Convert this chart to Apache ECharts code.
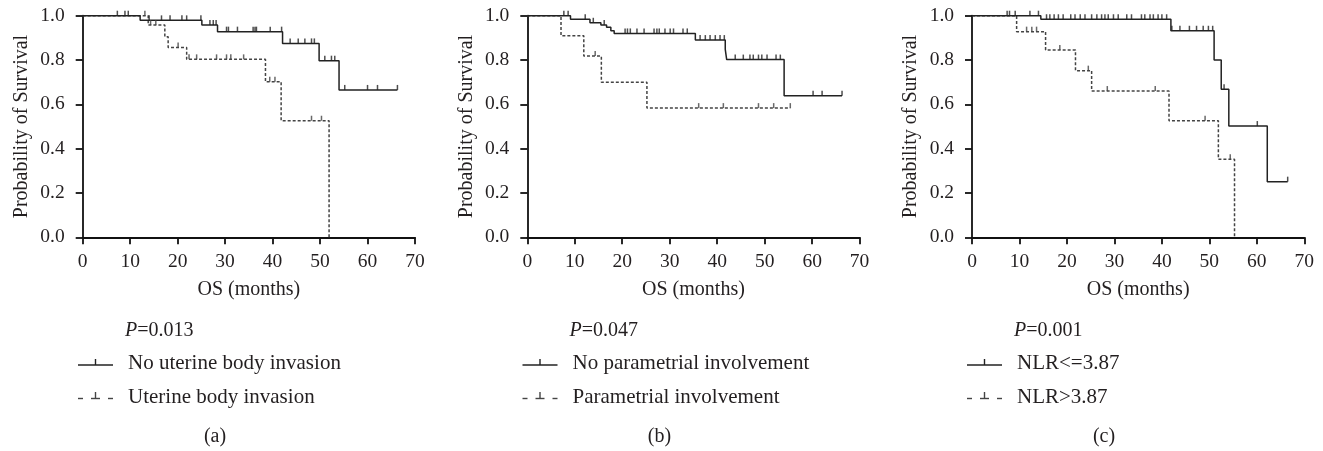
<!DOCTYPE html>
<html>
<head>
<meta charset="utf-8">
<script src="https://cdn.jsdelivr.net/npm/echarts@6/dist/echarts.min.js"></script>
<style>
html,body{margin:0;padding:0;background:#fff;}
#chart{width:1323px;height:451px;}
</style>
</head>
<body>
<div id="chart"></div>
<script>
// ---------- data ----------
const xTickLabels = ['0','10','20','30','40','50','60','70'];
const yTickLabels = ['0.0','0.2','0.4','0.6','0.8','1.0'];

// Panel (a)
const aSolidT = [0, 12.1, 25.1, 28.4, 42.1, 49.8, 54.0, 66.3];
const aSolidS = [1, 0.979, 0.958, 0.928, 0.875, 0.797, 0.665, 0.665];
const aSolidCens = [7.3, 8.9, 9.6, 14.0, 16.6, 18.4, 20.9, 21.9, 24.9, 26.8, 27.5, 28.1, 30.3, 30.7, 32.6, 35.9, 36.3, 36.6, 39.5, 41.9, 43.7, 45.4, 46.8, 48.2, 48.8, 51.0, 52.4, 53.1, 55.2, 60.0, 62.1, 66.3];
const aDashT = [0, 13.8, 17.3, 18.0, 21.9, 38.5, 41.8, 51.9];
const aDashS = [1, 0.958, 0.905, 0.857, 0.803, 0.702, 0.526, 0];
const aDashCens = [13.1, 14.3, 15.4, 20.1, 22.4, 24.0, 28.2, 30.3, 31.2, 33.9, 39.4, 40.5, 48.2, 50.3];

// Panel (b)
const bSolidT = [0, 9.1, 13.2, 15.5, 16.7, 17.6, 18.3, 35.4, 41.7, 42.0, 54.1, 66.3];
const bSolidS = [1, 0.984, 0.968, 0.958, 0.948, 0.932, 0.920, 0.890, 0.848, 0.802, 0.639, 0.639];
const bSolidCens = [7.7, 8.6, 12.2, 13.9, 16.2, 20.6, 21.1, 21.7, 23.1, 24.6, 26.7, 27.3, 27.8, 29.0, 30.1, 30.8, 32.8, 33.7, 36.4, 37.5, 38.5, 39.6, 40.6, 41.5, 43.8, 45.5, 46.9, 47.6, 48.7, 49.4, 50.5, 52.4, 53.3, 60.2, 62.1, 66.3];
const bDashT = [0, 7.1, 11.9, 15.6, 25.2, 55.4];
const bDashS = [1, 0.910, 0.818, 0.700, 0.583, 0.583];
const bDashCens = [14.3, 36.1, 41.3, 48.7, 51.9, 55.4];

// Panel (c)
const cSolidT = [0, 14.5, 41.9, 51.0, 52.5, 54.1, 62.2, 66.5];
const cSolidS = [1, 0.984, 0.932, 0.800, 0.668, 0.502, 0.251, 0.251];
const cSolidCens = [7.4, 7.9, 9.1, 12.2, 14.0, 15.7, 16.4, 17.3, 18.2, 19.2, 20.8, 21.7, 22.8, 23.8, 25.2, 26.3, 27.3, 28.0, 28.7, 29.8, 30.8, 32.6, 33.6, 35.7, 36.4, 37.5, 38.2, 39.2, 40.0, 41.0, 42.1, 43.8, 45.8, 47.3, 48.7, 49.8, 50.7, 53.1, 60.1, 66.5];
const cDashT = [0, 9.4, 15.5, 21.8, 25.2, 41.5, 51.9, 55.3];
const cDashS = [1, 0.928, 0.845, 0.752, 0.660, 0.526, 0.352, 0];
const cDashCens = [11.5, 12.6, 13.6, 18.5, 24.5, 28.5, 38.6, 49.1, 54.4];

const pValues = ['0.013', '0.047', '0.001'];
const solidNames = ['No uterine body invasion', 'No parametrial involvement', 'NLR<=3.87'];
const dashNames = ['Uterine body invasion', 'Parametrial involvement', 'NLR>3.87'];
const panelTags = ['(a)', '(b)', '(c)'];

// ---------- build ----------
const FONT = '"Liberation Serif", "Times New Roman", serif';
const TXT = '#231f20';
const SOLID = '#222222';
const DASH = '#444444';

function pairs(T, S) { return T.map((t, i) => [t, S[i]]); }
function survAt(T, S, t) {
  let v = S[0];
  for (let i = 0; i < T.length; i++) { if (t >= T[i]) v = S[i]; }
  return v;
}
function cens(T, S, C) { return C.map(t => [t, survAt(T, S, t)]); }

const panels = [
  {sT: aSolidT, sS: aSolidS, sC: aSolidCens, dT: aDashT, dS: aDashS, dC: aDashCens, left: 82.7},
  {sT: bSolidT, sS: bSolidS, sC: bSolidCens, dT: bDashT, dS: bDashS, dC: bDashCens, left: 527.3},
  {sT: cSolidT, sS: cSolidS, sC: cSolidCens, dT: cDashT, dS: cDashS, dC: cDashCens, left: 972}
];

const grid = [], xAxis = [], yAxis = [], series = [], graphic = [];
panels.forEach((p, k) => {
  grid.push({left: p.left, top: 15.7, width: 332.3, height: 221.6});
  xAxis.push({
    type: 'value', gridIndex: k, min: 0, max: 70, interval: 10,
    name: 'OS (months)', nameLocation: 'middle', nameGap: 42,
    nameTextStyle: {fontFamily: FONT, fontSize: 20, color: TXT},
    axisLine: {lineStyle: {color: '#111', width: 1.8}},
    axisTick: {show: true, length: 7, lineStyle: {color: '#111', width: 1.8}},
    axisLabel: {fontFamily: FONT, fontSize: 19.5, color: TXT, margin: 15,
      formatter: v => xTickLabels[Math.round(v / 10)]},
    splitLine: {show: false}
  });
  yAxis.push({
    type: 'value', gridIndex: k, min: 0, max: 1, interval: 0.2,
    name: 'Probability of Survival', nameLocation: 'middle', nameGap: 51,
    nameTextStyle: {fontFamily: FONT, fontSize: 20, color: TXT},
    axisLine: {show: true, lineStyle: {color: '#111', width: 1.8}},
    axisTick: {show: true, length: 7, lineStyle: {color: '#111', width: 1.8}},
    axisLabel: {fontFamily: FONT, fontSize: 19.5, color: TXT, margin: 18,
      formatter: v => yTickLabels[Math.round(v * 5)]},
    splitLine: {show: false}
  });
  series.push({
    type: 'line', name: solidNames[k], xAxisIndex: k, yAxisIndex: k, step: 'end',
    data: pairs(p.sT, p.sS), showSymbol: false, silent: true, z: 3,
    lineStyle: {color: SOLID, width: 1.5}
  });
  series.push({
    type: 'line', name: dashNames[k], xAxisIndex: k, yAxisIndex: k, step: 'end',
    data: pairs(p.dT, p.dS), showSymbol: false, silent: true, z: 2,
    lineStyle: {color: DASH, width: 1.5, type: [3, 2]}
  });
  series.push({
    type: 'scatter', xAxisIndex: k, yAxisIndex: k, data: cens(p.sT, p.sS, p.sC),
    symbol: 'rect', symbolSize: [1.5, 5], symbolOffset: [0, -2.5], silent: true, z: 4,
    itemStyle: {color: SOLID}
  });
  series.push({
    type: 'scatter', xAxisIndex: k, yAxisIndex: k, data: cens(p.dT, p.dS, p.dC),
    symbol: 'rect', symbolSize: [1.5, 5], symbolOffset: [0, -2.5], silent: true, z: 4,
    itemStyle: {color: DASH}
  });

  // legend block
  const ox = k * 444.5;
  graphic.push({
    type: 'text', left: 125 + ox, top: 321,
    style: {text: '{i|P}=' + pValues[k], font: '20px ' + FONT, fill: TXT,
      rich: {i: {fontStyle: 'italic', fontFamily: FONT, fontSize: 20, fill: TXT}}}
  });
  graphic.push({type: 'line', shape: {x1: 78 + ox, y1: 365, x2: 113 + ox, y2: 365}, style: {stroke: SOLID, lineWidth: 1.4}});
  graphic.push({type: 'line', shape: {x1: 95.5 + ox, y1: 359, x2: 95.5 + ox, y2: 365}, style: {stroke: SOLID, lineWidth: 1.4}});
  graphic.push({
    type: 'text', left: 128 + ox, top: 353,
    style: {text: solidNames[k], font: '21px ' + FONT, fill: TXT}
  });
  [[78, 83], [91, 100], [108, 113]].forEach(s => {
    graphic.push({type: 'line', shape: {x1: s[0] + ox, y1: 398.5, x2: s[1] + ox, y2: 398.5}, style: {stroke: DASH, lineWidth: 1.4}});
  });
  graphic.push({type: 'line', shape: {x1: 95.5 + ox, y1: 392, x2: 95.5 + ox, y2: 398.5}, style: {stroke: DASH, lineWidth: 1.4}});
  graphic.push({
    type: 'text', left: 128 + ox, top: 387,
    style: {text: dashNames[k], font: '21px ' + FONT, fill: TXT}
  });
  graphic.push({
    type: 'text', x: 215 + ox, y: 437,
    style: {text: panelTags[k], font: '20px ' + FONT, fill: TXT, textAlign: 'center', textVerticalAlign: 'middle'}
  });
});

const chart = echarts.init(document.getElementById('chart'), null, {renderer: 'canvas'});
chart.setOption({
  backgroundColor: '#ffffff',
  animation: false,
  grid, xAxis, yAxis, series, graphic
});
</script>
</body>
</html>
